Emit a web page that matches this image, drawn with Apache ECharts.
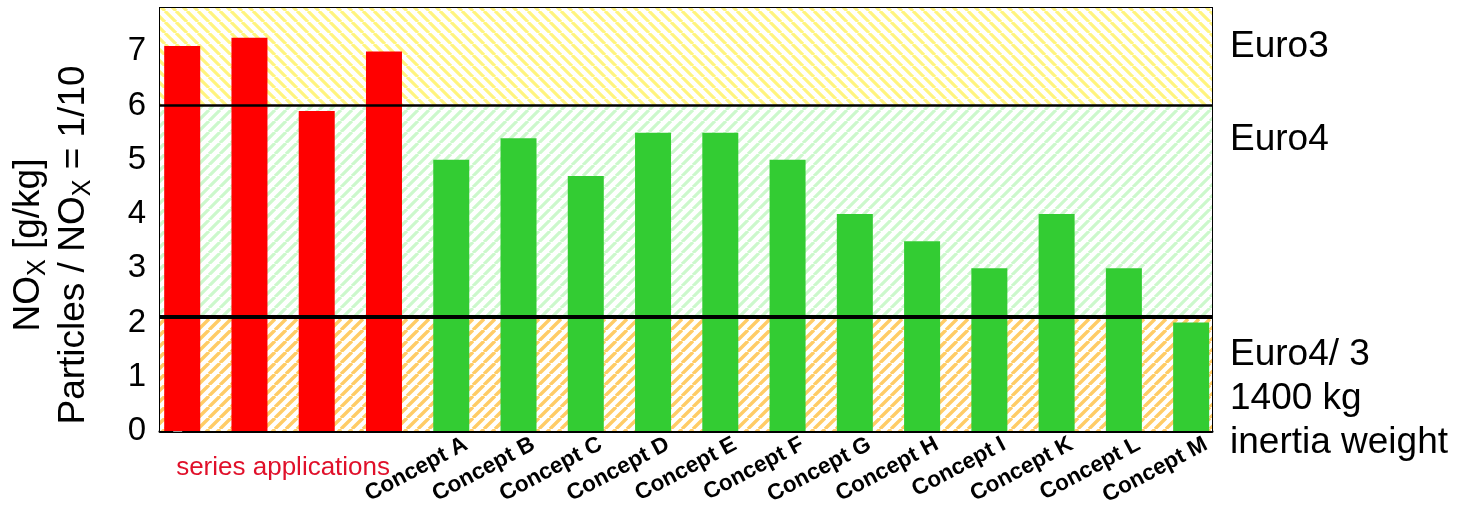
<!DOCTYPE html>
<html>
<head>
<meta charset="utf-8">
<script src="https://cdn.jsdelivr.net/npm/echarts@6/dist/echarts.min.js"></script>
<style>
  html, body { margin: 0; padding: 0; background: #fff; }
  #chart { width: 1458px; height: 515px; }
</style>
</head>
<body>
<div id="chart"></div>
<script>
// Emission values per vehicle (NOx in g/kg, particles scaled 1/10)
const seriesLabel = 'series applications';
const seriesValues = [7.1, 7.25, 5.9, 7.0];
const conceptNames = ['Concept A', 'Concept B', 'Concept C', 'Concept D', 'Concept E', 'Concept F',
                      'Concept G', 'Concept H', 'Concept I', 'Concept K', 'Concept L', 'Concept M'];
const conceptValues = [5.0, 5.4, 4.7, 5.5, 5.5, 5.0, 4.0, 3.5, 3.0, 4.0, 3.0, 2.0];

// Limit bands (lower, upper) and the limit lines between them
const euro3Band = [6, 7.8];
const euro4Band = [2.1, 6];
const euro43Band = [0, 2.1];
const limitLines = [6, 2.1];
const bandLabels = ['Euro3', 'Euro4', 'Euro4/ 3\n1400 kg\ninertia weight'];

const FONT = '"Liberation Sans", Arial, sans-serif';
const SERIES_RED = '#ff0000';
const CONCEPT_GREEN = '#33cc33';
// rotated category labels end a little right of the bar centre
const LABEL_SHIFT = 0.22;

// Diagonal hatch pattern for the background bands
function hatch(color, dir, width) {
  const s = 11;
  const c = document.createElement('canvas');
  c.width = s; c.height = s;
  const ctx = c.getContext('2d');
  ctx.fillStyle = '#ffffff';
  ctx.fillRect(0, 0, s, s);
  ctx.strokeStyle = color;
  ctx.lineWidth = width;
  ctx.beginPath();
  for (const k of [-s, 0, s]) {
    if (dir === '/') { ctx.moveTo(k, s); ctx.lineTo(k + s, 0); }
    else { ctx.moveTo(k, 0); ctx.lineTo(k + s, s); }
  }
  ctx.stroke();
  return { image: c, repeat: 'repeat' };
}

const allNames = seriesValues.map(() => '').concat(conceptNames);
const barData = seriesValues.map((v, i) => ({ value: [i, v], itemStyle: { color: SERIES_RED } }))
  .concat(conceptValues.map((v, i) => ({ value: [i + seriesValues.length, v], itemStyle: { color: CONCEPT_GREEN } })));
const conceptLabelPositions = conceptNames.map((_, i) => i + seriesValues.length + LABEL_SHIFT);

const chart = echarts.init(document.getElementById('chart'), null, { renderer: 'canvas' });

const option = {
  animation: false,
  grid: {
    left: 160, right: 246, top: 8, bottom: 84,
    show: true, borderColor: '#000', borderWidth: 2, backgroundColor: 'transparent'
  },
  xAxis: {
    type: 'value',
    min: -0.33, max: 15.31,
    splitLine: { show: false },
    axisTick: { show: false },
    axisLine: { show: true, onZero: false, lineStyle: { color: '#000', width: 3 } },
    axisLabel: {
      customValues: conceptLabelPositions,
      formatter: v => allNames[Math.round(v - LABEL_SHIFT)] || '',
      rotate: 28,
      margin: 12,
      fontFamily: FONT, fontWeight: 'bold', fontSize: 22.5, color: '#000'
    }
  },
  yAxis: {
    type: 'value',
    min: 0, max: 7.8, interval: 1,
    axisLine: { show: true, lineStyle: { color: '#000', width: 2 } },
    axisTick: { show: true, inside: false, length: 9, lineStyle: { color: '#999' } },
    splitLine: { show: true, lineStyle: { color: '#aaa', width: 1 } },
    axisLabel: {
      formatter: v => (Number.isInteger(v) ? String(v) : ''),
      fontFamily: FONT, fontSize: 33, color: '#000', margin: 14
    }
  },
  series: [
    {
      name: 'bands', type: 'line', data: [], z: -1, silent: true,
      markArea: {
        silent: true,
        label: { show: false },
        data: [
          [{ yAxis: euro3Band[0], itemStyle: { color: hatch('#fff47f', '\\', 3.2) } }, { yAxis: euro3Band[1] }],
          [{ yAxis: euro4Band[0], itemStyle: { color: hatch('#ccf8cc', '/', 3.2) } }, { yAxis: euro4Band[1] }],
          [{ yAxis: euro43Band[0], itemStyle: { color: hatch('#ffcc66', '/', 3.4) } }, { yAxis: euro43Band[1] }]
        ]
      }
    },
    {
      name: 'limits', type: 'line', data: [], z: 1, silent: true,
      markLine: {
        silent: true, symbol: 'none', label: { show: false },
        data: [
          { yAxis: limitLines[0], lineStyle: { color: '#000', width: 2.5, type: 'solid' } },
          { yAxis: limitLines[1], lineStyle: { color: '#000', width: 4, type: 'solid' } }
        ]
      }
    },
    {
      name: 'NOx', type: 'bar', z: 2, barWidth: 36,
      data: barData
    }
  ]
};
chart.setOption(option);

// Axis title, group caption and band labels
const groupCenter = chart.convertToPixel({ xAxisIndex: 0 }, (seriesValues.length - 1) / 2);
chart.setOption({
  graphic: [
    {
      type: 'text', x: 51, y: 245, rotation: Math.PI / 2,
      style: {
        text: '{n|NO}{s|X}{n| [g/kg]}\n{n|Particles / NO}{s|X}{n| = 1/10}',
        align: 'center', verticalAlign: 'middle',
        rich: {
          n: { fontFamily: FONT, fontSize: 37, lineHeight: 45, fill: '#000' },
          s: { fontFamily: FONT, fontSize: 25, lineHeight: 30, verticalAlign: 'bottom', fill: '#000' }
        }
      }
    },
    {
      type: 'text', x: groupCenter, y: 468,
      style: { text: seriesLabel, fontFamily: FONT, fontSize: 26, fill: '#e0102a', align: 'center', verticalAlign: 'middle' }
    },
    {
      type: 'text', x: 1230, y: 47,
      style: { text: bandLabels[0], fontFamily: FONT, fontSize: 37, fill: '#000', align: 'left', verticalAlign: 'middle' }
    },
    {
      type: 'text', x: 1230, y: 140,
      style: { text: bandLabels[1], fontFamily: FONT, fontSize: 37, fill: '#000', align: 'left', verticalAlign: 'middle' }
    },
    {
      type: 'text', x: 1230, y: 399,
      style: { text: bandLabels[2], fontFamily: FONT, fontSize: 37, lineHeight: 44, fill: '#000', align: 'left', verticalAlign: 'middle' }
    }
  ]
});
</script>
</body>
</html>
